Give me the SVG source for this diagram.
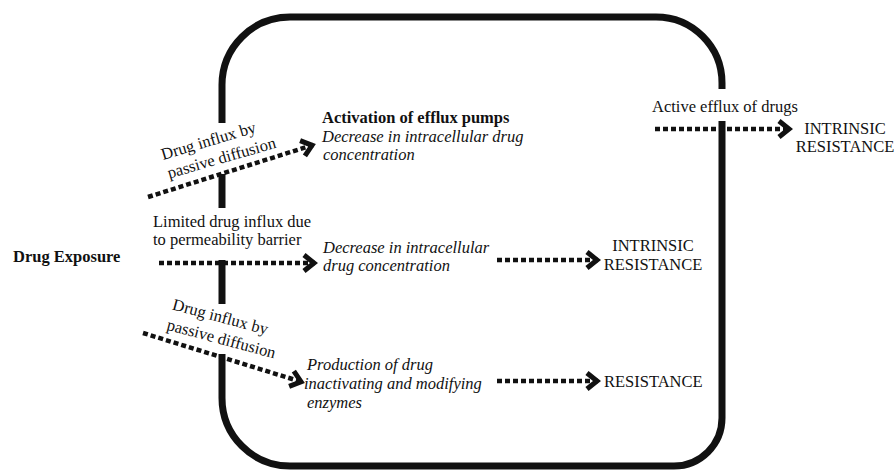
<svg xmlns="http://www.w3.org/2000/svg" width="894" height="475" viewBox="0 0 894 475">
<defs>
<style>
.t{font-family:'Liberation Serif','DejaVu Serif',serif;font-size:16.5px;fill:#111}
.b{font-weight:bold}
.i{font-style:italic}
.m{text-anchor:middle}
.wall{fill:none;stroke:#111;stroke-width:7}
.flow{fill:none;stroke:#111;stroke-width:4.5;stroke-dasharray:5 3}
</style>
<marker id="chev" markerUnits="userSpaceOnUse" viewBox="-14 -11 16 22" markerWidth="16" markerHeight="22" refX="0" refY="0" orient="auto" overflow="visible">
<path d="M-11,-8 L-1,0 L-11,8" fill="none" stroke="#111" stroke-width="5" stroke-dasharray="none" stroke-linejoin="miter"/>
</marker>
</defs>
<rect width="894" height="475" fill="#fff"/>
<g id="cell">
<path class="wall" d="M222,123 L222,85 A68,68 0 0 1 290,17 L656,17 A66,66 0 0 1 722,83 L722,89"/>
<path class="wall" d="M222,174 L222,208"/>
<path class="wall" d="M222,260 L222,304"/>
<path class="wall" d="M222,354 L222,398 A68,68 0 0 0 290,466 L674,466 A48,48 0 0 0 722,418 L722,121"/>
</g>
<g id="connectors">
<path class="flow" d="M148,197 L313,145" marker-end="url(#chev)"/>
<path class="flow" d="M159,263 L315,263" marker-end="url(#chev)"/>
<path class="flow" d="M143,333 L302,382" marker-end="url(#chev)"/>
<path class="flow" d="M497,260 L598,260" marker-end="url(#chev)"/>
<path class="flow" d="M497,381 L598,381" marker-end="url(#chev)"/>
<path class="flow" d="M655,129 L790,129" marker-end="url(#chev)"/>
</g>
<g class="t" font-family="Liberation Serif, DejaVu Serif, serif">
<g id="exposure"><text class="b" x="13" y="262">Drug Exposure</text></g>
<g id="influx-top">
<text class="m" x="210" y="146" transform="rotate(-16.5 210 146)">Drug influx by</text>
<text class="m" x="223" y="163" transform="rotate(-16 223 163)">passive diffusion</text>
</g>
<g id="limited">
<text x="153" y="227">Limited drug influx due</text>
<text x="153" y="245">to permeability barrier</text>
</g>
<g id="influx-bottom">
<text class="m" x="219" y="322" transform="rotate(15 219 322)">Drug influx by</text>
<text class="m" x="220" y="344" transform="rotate(15 220 344)">passive diffusion</text>
</g>
<g id="efflux-pumps">
<text class="b" x="322" y="123">Activation of efflux pumps</text>
<text class="i" x="322" y="142">Decrease in intracellular drug</text>
<text class="i" x="323" y="160">concentration</text>
</g>
<g id="decrease">
<text class="i" x="323" y="253">Decrease in intracellular</text>
<text class="i" x="323" y="271">drug concentration</text>
</g>
<g id="enzymes">
<text class="i" x="307" y="370">Production of drug</text>
<text class="i" x="304" y="389">inactivating and modifying</text>
<text class="i" x="307" y="408">enzymes</text>
</g>
<g id="intrinsic-mid">
<text class="m" x="653" y="251">INTRINSIC</text>
<text class="m" x="653" y="270">RESISTANCE</text>
</g>
<g id="resistance-low"><text x="604" y="387">RESISTANCE</text></g>
<g id="active-efflux"><text x="652" y="112">Active efflux of drugs</text></g>
<g id="intrinsic-top">
<text class="m" x="845" y="134">INTRINSIC</text>
<text class="m" x="845" y="152">RESISTANCE</text>
</g>
</g>
</svg>
